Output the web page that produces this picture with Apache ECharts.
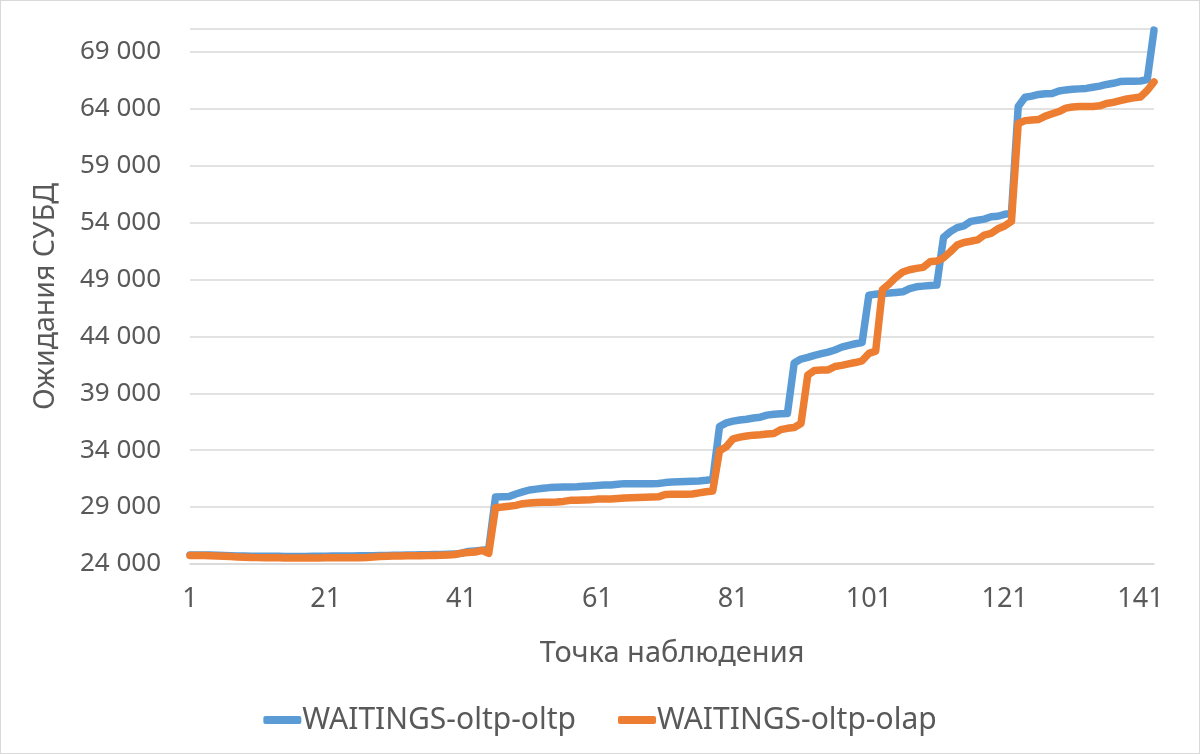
<!DOCTYPE html>
<html>
<head>
<meta charset="utf-8">
<script src="https://cdn.jsdelivr.net/npm/echarts@6/dist/echarts.min.js"></script>
<style>
html,body{margin:0;padding:0;background:#fff;}
#c{width:1198px;height:752px;border:1px solid #d9d9d9;}
</style>
</head>
<body>
<div id="c"></div>
<script>
var seriesNames = ['WAITINGS-oltp-oltp', 'WAITINGS-oltp-olap'];
var xAxisTitle = 'Точка наблюдения';
var yAxisTitle = 'Ожидания СУБД';

var categories = [];
for (var i = 1; i <= 143; i++) categories.push(String(i));

var oltpOltp = [
 24800,24800,24790,24780,24760,24740,24720,24700,24700,24690,
 24680,24680,24670,24670,24660,24660,24660,24660,24670,24680,
 24690,24700,24700,24710,24710,24720,24720,24730,24740,24750,
 24760,24770,24790,24800,24810,24820,24830,24840,24850,24870,
 24950,25100,25150,25200,25300,
 29880,29900,29920,30150,30330,
 30500,30580,30650,30710,30740,30760,30770,30790,30830,30860,
 30900,30930,30950,31000,31060,31060,31060,31060,31060,31070,
 31150,31200,31220,31250,31280,31300,31350,31420,
 36080,36400,36550,36650,36720,36830,36900,37080,37160,37200,37230,
 41650,42000,42150,42330,42480,42620,42800,43050,43200,43350,43450,
 47620,47700,47770,47800,47850,47910,48200,48350,48410,48460,48500,
 52700,53200,53550,53700,54100,54200,54300,54500,54550,54720,54800,
 64200,65000,65100,65250,65320,65330,65550,65650,65700,65740,65780,65880,65980,66130,66230,66380,66420,66420,66430,66550,70900
];

var oltpOlap = [
 24750,24750,24740,24720,24700,24680,24650,24620,24600,24580,
 24560,24550,24540,24540,24530,24530,24530,24530,24530,24530,
 24540,24540,24540,24550,24550,24560,24580,24620,24650,24680,
 24700,24710,24720,24730,24730,24740,24750,24760,24780,24840,
 24950,25020,25050,25200,24930,
 28950,29000,29070,29150,29300,
 29350,29400,29420,29420,29450,29500,29590,29600,29620,29650,
 29700,29700,29710,29750,29800,29830,29850,29870,29880,29900,
 30100,30120,30120,30120,30150,30250,30350,30420,
 33950,34300,35000,35150,35250,35320,35350,35420,35470,35800,35920,35990,36350,
 40600,41000,41050,41050,41350,41450,41580,41700,41850,42500,42700,
 48100,48600,49200,49650,49850,49970,50060,50550,50610,50900,51430,52020,52250,52350,52470,52900,53050,53450,53700,54100,
 62700,62950,63000,63050,63350,63550,63750,64050,64150,64200,64200,64200,64250,64450,64550,64700,64850,64950,65030,65600,66350
];

var yMin = 24000, yMax = 71000, yStep = 5000;

function fmt(v){ return String(v).replace(/\B(?=(\d{3})+(?!\d))/g, ' '); }

var chart = echarts.init(document.getElementById('c'), null, {renderer:'canvas'});
var txt = '#595959';
var fam = '"Noto Sans", sans-serif';
chart.setOption({
  animation: false,
  backgroundColor: '#fff',
  grid: {left: 189, right: 45, top: 28, bottom: 189, containLabel: false},
  legend: {
    data: seriesNames,
    top: 699,
    left: 'center',
    itemGap: 42,
    itemWidth: 38,
    itemHeight: 8,
    icon: 'roundRect',
    textStyle: {color: txt, fontSize: 30, fontFamily: fam, padding: [0,0,0,-4]}
  },
  xAxis: {
    type: 'category',
    data: categories,
    boundaryGap: false,
    name: xAxisTitle,
    nameLocation: 'middle',
    nameGap: 75,
    nameTextStyle: {color: txt, fontSize: 29, fontFamily: fam},
    axisLine: {show: true, lineStyle: {color: '#d9d9d9', width: 1.5}},
    axisTick: {show: false},
    axisLabel: {
      color: txt, fontSize: 27, fontFamily: fam, margin: 22,
      interval: function(idx){ return idx % 20 === 0; },
      hideOverlap: false
    },
    splitLine: {show: false}
  },
  yAxis: {
    type: 'value',
    min: yMin, max: yMax, interval: yStep,
    name: yAxisTitle,
    nameLocation: 'middle',
    nameGap: 130,
    nameRotate: 90,
    nameTextStyle: {color: txt, fontSize: 28.5, fontFamily: fam},
    axisLine: {show: false},
    axisTick: {show: false},
    axisLabel: {
      color: txt, fontSize: 26, fontFamily: fam, margin: 29,
      formatter: function(v){ return v >= yMax ? '' : fmt(v); }
    },
    splitLine: {show: true, lineStyle: {color: '#d9d9d9', width: 1.5}}
  },
  series: [
    {name: seriesNames[0], type: 'line', data: oltpOltp, showSymbol: false, symbol: 'none',
     lineStyle: {color: '#5B9BD5', width: 7.5, join: 'round', cap: 'round'}, itemStyle: {color: '#5B9BD5'}, z: 2},
    {name: seriesNames[1], type: 'line', data: oltpOlap, showSymbol: false, symbol: 'none',
     lineStyle: {color: '#ED7D31', width: 7.5, join: 'round', cap: 'round'}, itemStyle: {color: '#ED7D31'}, z: 3}
  ]
});
</script>
</body>
</html>
